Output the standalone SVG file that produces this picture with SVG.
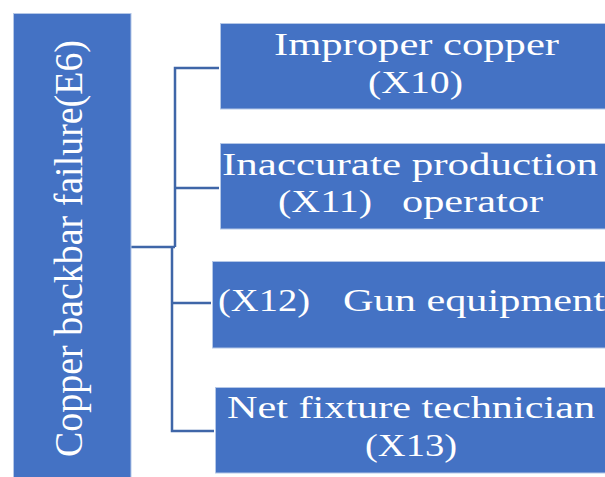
<svg xmlns="http://www.w3.org/2000/svg" width="605" height="477" viewBox="0 0 605 477">
  <style>
    .box { fill: #4472C4; stroke: #B4C7E7; stroke-width: 1; }
    .lbl { fill: #FFFFFF; font-family: 'Liberation Serif', 'DejaVu Serif', serif; font-size: 32px; }
    .vlbl { fill: #FFFFFF; font-family: 'Liberation Serif', 'DejaVu Serif', serif; font-size: 39px; }
    .conn { fill: none; stroke: #3F66A8; stroke-width: 2.5; }
  </style>
  <rect width="605" height="477" fill="#FFFFFF"/>

  <!-- tree connectors -->
  <g id="connectors">
    <path class="conn" d="M131 247 H175"/>
    <path class="conn" d="M175 247 V68 H219"/>
    <path class="conn" d="M175 188 H219"/>
    <path class="conn" d="M172 247 V431 H214"/>
    <path class="conn" d="M172 303 H211"/>
  </g>

  <!-- root event -->
  <g id="E6">
    <rect class="box" x="13.5" y="13.5" width="117.5" height="470"/>
    <text class="vlbl" transform="translate(82,457) rotate(-90)" x="0" y="0" textLength="417" lengthAdjust="spacingAndGlyphs">Copper backbar failure(E6)</text>
  </g>

  <g id="X10">
    <rect class="box" x="220.5" y="23.5" width="390" height="85.5"/>
    <text class="lbl" x="274" y="55" textLength="285" lengthAdjust="spacingAndGlyphs">Improper copper</text>
    <text class="lbl" x="368" y="93" textLength="95" lengthAdjust="spacingAndGlyphs">(X10)</text>
  </g>

  <g id="X11">
    <rect class="box" x="220.5" y="143.5" width="390" height="85.5"/>
    <text class="lbl" x="222" y="175" textLength="376" lengthAdjust="spacingAndGlyphs">Inaccurate production</text>
    <text class="lbl" x="278" y="212" textLength="94" lengthAdjust="spacingAndGlyphs">(X11)</text>
    <text class="lbl" x="402" y="212" textLength="141" lengthAdjust="spacingAndGlyphs">operator</text>
  </g>

  <g id="X12">
    <rect class="box" x="212.5" y="261.5" width="398" height="86.5"/>
    <text class="lbl" x="218" y="311" textLength="92" lengthAdjust="spacingAndGlyphs">(X12)</text>
    <text class="lbl" x="343" y="311" textLength="262" lengthAdjust="spacingAndGlyphs">Gun equipment</text>
  </g>

  <g id="X13">
    <rect class="box" x="215.5" y="387.5" width="395" height="85.5"/>
    <text class="lbl" x="227" y="418" textLength="368" lengthAdjust="spacingAndGlyphs">Net fixture technician</text>
    <text class="lbl" x="365" y="456" textLength="92" lengthAdjust="spacingAndGlyphs">(X13)</text>
  </g>
</svg>
